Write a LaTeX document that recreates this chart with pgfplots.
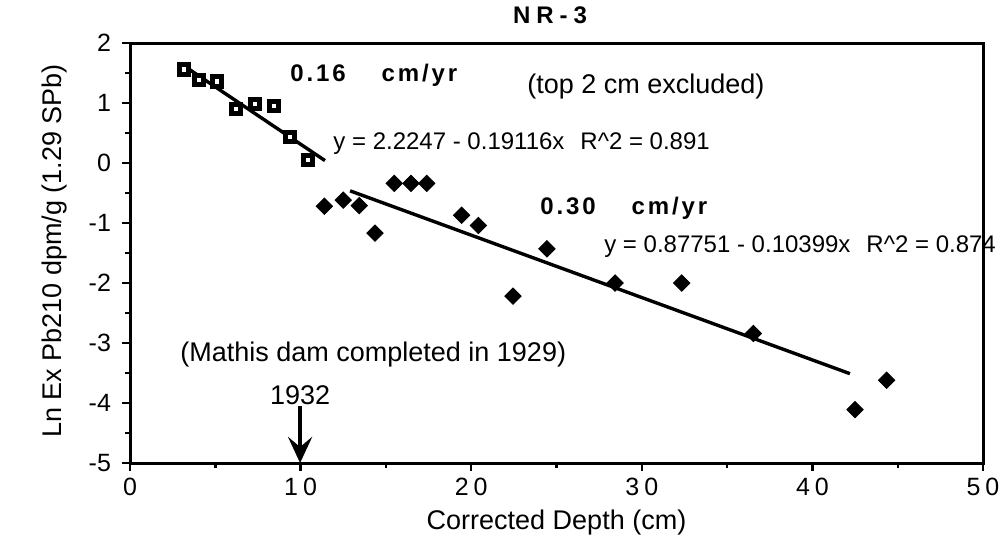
\documentclass[border=0pt]{standalone}
\usepackage{fontspec}
\setmainfont{Liberation Sans}
\usepackage{pgfplots}
\usepackage{pgfplotstable}
\pgfplotsset{compat=1.18}
\usetikzlibrary{arrows.meta}

\pgfplotstableread{
x y
3.17 1.56
4.06 1.38
5.12 1.36
6.20 0.90
7.33 0.98
8.44 0.95
9.38 0.43
10.45 0.05
}\squares

\pgfplotstableread{
x y
11.39 -0.72
12.50 -0.62
13.44 -0.71
14.36 -1.17
15.49 -0.34
16.47 -0.34
17.39 -0.34
19.44 -0.87
20.42 -1.04
22.45 -2.22
24.44 -1.43
28.43 -2.00
32.34 -2.00
36.54 -2.84
42.50 -4.11
44.35 -3.62
}\diamonds

\begin{document}
\begin{tikzpicture}
\path[use as bounding box] (-65pt,-41.5pt) rectangle (437pt,231.5pt);
\begin{axis}[
  at={(0,0)}, anchor=south west,
  scale only axis, width=426.5pt, height=210pt,
  xmin=0, xmax=50, ymin=-5, ymax=2,
  xtick={0,10,...,50}, ytick={-5,-4,...,2},
  minor x tick num=1, minor y tick num=1,
  tick pos=left, tick align=outside,
  major tick length=4pt, minor tick length=2.5pt,
  every tick/.style={line width=1.2pt, black},
  axis line style={line width=1.5pt},
  /pgf/number format/assume math mode=true,
  x tick label style={font=\fontsize{12.5}{14}\selectfont\addfontfeature{LetterSpace=20}},
  y tick label style={font=\fontsize{12.5}{14}\selectfont, xshift=-2pt},
  clip=false,
]
\addplot[only marks, mark=square*, mark size=2.3pt,
  mark options={fill=white, draw=black, line width=2.5pt}] table[x=x,y=y] {\squares};
\addplot[only marks, mark=square*, mark size=2.9pt,
  mark options={fill=black, draw=black, rotate=45}] table[x=x,y=y] {\diamonds};
\addplot[black, line width=1.7pt] coordinates {(3.2,1.613) (11.43,0.040)};
\addplot[black, line width=1.7pt] coordinates {(12.9,-0.464) (42.2,-3.511)};

\node[anchor=west, inner sep=0pt, font=\fontsize{12}{14}\selectfont\bfseries\addfontfeature{LetterSpace=12}]
  at (axis cs:9.38,1.47) {0.16\hspace{18pt}cm/yr};
\node[anchor=west, inner sep=0pt, font=\fontsize{13.5}{16}\selectfont] at (axis cs:23.27,1.28) {(top 2 cm excluded)};
\node[anchor=west, inner sep=0pt, font=\fontsize{12}{15}\selectfont] at (axis cs:11.9,0.32) {y = 2.2247 - 0.19116x\hspace{8pt}R\^{}2 = 0.891};
\node[anchor=west, inner sep=0pt, font=\fontsize{12}{14}\selectfont\bfseries\addfontfeature{LetterSpace=12}]
  at (axis cs:24.03,-0.75) {0.30\hspace{18pt}cm/yr};
\node[anchor=west, inner sep=0pt, font=\fontsize{12}{15}\selectfont] at (axis cs:27.78,-1.40) {y = 0.87751 - 0.10399x\hspace{8pt}R\^{}2 = 0.874};
\node[anchor=west, inner sep=0pt, font=\fontsize{13.5}{16}\selectfont] at (axis cs:2.93,-3.20) {(Mathis dam completed in 1929)};
\node[anchor=center, inner sep=0pt, font=\fontsize{13.5}{16}\selectfont] at (axis cs:9.97,-3.87) {1932};
\draw[line width=2pt, -{Stealth[length=13pt, width=12pt, inset=5pt]}] (axis cs:9.97,-4.05) -- (axis cs:9.97,-5);
\end{axis}
\node[font=\fontsize{12}{14}\selectfont\bfseries\addfontfeature{LetterSpace=25}] at (210pt,224pt) {NR-3};
\node[font=\fontsize{13.5}{16}\selectfont] at (213.25pt,-30pt) {Corrected Depth (cm)};
\node[rotate=90, font=\fontsize{13.5}{16}\selectfont] at (-37.5pt,106pt) {Ln Ex Pb210 dpm/g (1.29 SPb)};
\end{tikzpicture}
\end{document}
